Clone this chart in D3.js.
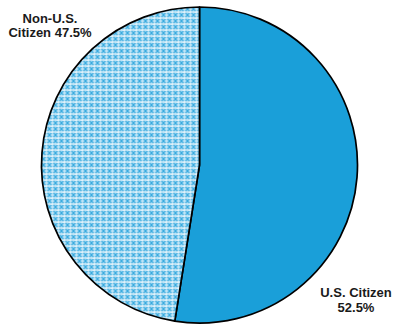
<!DOCTYPE html>
<html>
<head>
<meta charset="utf-8">
<script src="https://cdn.jsdelivr.net/npm/d3@7"></script>
<style>
  html, body { margin: 0; padding: 0; background: #fff; }
  svg { display: block; }
  text { font-family: "Liberation Sans", Arial, sans-serif; font-weight: bold; font-size: 13px; fill: #1a1a1a; }
</style>
</head>
<body>
<svg id="chart" width="393" height="325"></svg>
<script>
// Citizenship split (percent)
const categories = ["U.S. Citizen", "Non-U.S. Citizen"];
const values = [52.5, 47.5];
const labelLines = [["U.S. Citizen", "52.5%"], ["Non-U.S.", "Citizen 47.5%"]];

const width = 393, height = 325;
const cx = 199.5, cy = 165, radius = 158;

const svg = d3.select("#chart");

// Light blue lattice for the non-citizen slice: white crosses on a blue grid
const defs = svg.append("defs");
const pat = defs.append("pattern")
  .attr("id", "hatch")
  .attr("patternUnits", "userSpaceOnUse")
  .attr("width", 6).attr("height", 6);
pat.append("rect").attr("width", 6).attr("height", 6).attr("fill", "#bfe4f6");
pat.append("path")
  .attr("d", "M0,0 L6,6 M6,0 L0,6 M-1,5 L1,7 M5,-1 L7,1 M5,7 L7,5 M-1,1 L1,-1")
  .attr("stroke", "#3aabdf").attr("stroke-width", 1.3).attr("fill", "none");
pat.append("path")
  .attr("d", "M3,1.5 L3,4.5 M1.5,3 L4.5,3")
  .attr("stroke", "#ffffff").attr("stroke-width", 1.2).attr("fill", "none");

const fills = ["#1a9fd9", "url(#hatch)"];

const pie = d3.pie().sort(null).value(d => d)(values);
const arc = d3.arc().innerRadius(0).outerRadius(radius);

const g = svg.append("g").attr("transform", `translate(${cx},${cy})`);
g.selectAll("path.slice")
  .data(pie)
  .join("path")
  .attr("class", "slice")
  .attr("d", arc)
  .attr("fill", (d, i) => fills[i])
  .attr("stroke", "#000")
  .attr("stroke-width", 1.7)
  .attr("stroke-linejoin", "round");

// Labels outside the pie
const labelPos = [[356, 297], [50, 23]];
labelLines.forEach((lines, i) => {
  const t = svg.append("text")
    .attr("text-anchor", "middle")
    .attr("x", labelPos[i][0])
    .attr("y", labelPos[i][1]);
  lines.forEach((ln, j) => {
    t.append("tspan")
      .attr("x", labelPos[i][0])
      .attr("dy", j === 0 ? 0 : (i === 0 ? 15 : 14))
      .text(ln);
  });
});
</script>
</body>
</html>
